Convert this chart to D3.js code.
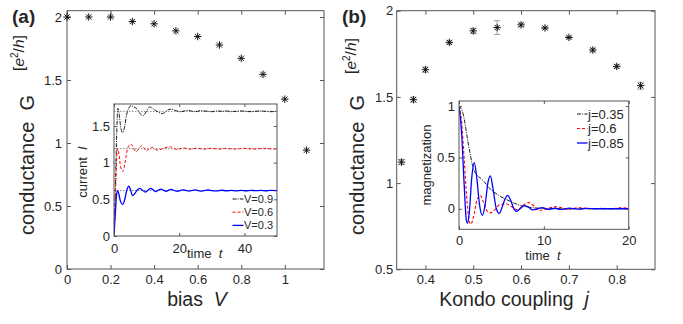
<!DOCTYPE html>
<html><head><meta charset="utf-8">
<script src="https://cdn.jsdelivr.net/npm/d3@7"></script>
<style>
body{margin:0;background:#fff}
svg{display:block}
text{font-family:"Liberation Sans",Arial,Helvetica,sans-serif;fill:#262626}
</style>
</head><body>
<svg id="c" width="683" height="324"></svg>
<script>
// ---------- Panel (a) data ----------
const aBias = [0, 0.1, 0.2, 0.3, 0.4, 0.5, 0.6, 0.7, 0.8, 0.9, 1.0, 1.1];
const aConductance = [2.0, 2.0, 2.0, 1.964, 1.946, 1.89, 1.845, 1.778, 1.672, 1.545, 1.348, 0.943];
const aXTicks = [0, 0.2, 0.4, 0.6, 0.8, 1];
const aYTicks = [0, 0.5, 1, 1.5, 2];

// inset (a): current vs time
const insetAXTicks = [0, 20, 40];
const insetAYTicks = [0, 0.5, 1, 1.5];
const insetALabels = ["V=0.9", "V=0.6", "V=0.3"];
const insetALevels = [1.70, 1.19, 0.62];
const currentV09 = [[0,0],[0.4,0.6],[0.8,1.35],[1.2,1.74],[1.6,1.66],[2.0,1.50],[2.7,1.41],[3.3,1.50],[3.9,1.66],[4.5,1.74],[5.3,1.78],[6.0,1.76],[6.9,1.74],[7.8,1.68],[8.9,1.64],[9.8,1.69],[10.4,1.74],[11.0,1.76],[11.8,1.74],[12.8,1.71],[13.8,1.685],[14.8,1.67],[15.8,1.69],[16.8,1.725],[17.6,1.73],[18.6,1.715],[19.6,1.70],[20.6,1.695],[21.6,1.705],[22.6,1.715],[23.6,1.705],[24.6,1.695],[25.6,1.70],[26.6,1.71],[27.6,1.705],[28.6,1.70],[30,1.695],[31.5,1.705],[33,1.70],[34.5,1.705],[36,1.695],[37.5,1.70],[39,1.705],[40.5,1.70],[42,1.695],[43.5,1.70],[45,1.705],[46.5,1.70],[48,1.695],[50,1.70]];
const currentV06 = [[0,0],[0.4,0.5],[0.8,1.05],[1.1,1.19],[1.5,1.12],[2.0,0.95],[2.7,0.88],[3.3,0.98],[4.0,1.16],[4.7,1.24],[5.3,1.25],[6.0,1.20],[6.7,1.15],[7.5,1.18],[8.4,1.23],[9.2,1.20],[9.9,1.16],[10.8,1.19],[11.7,1.21],[12.6,1.185],[13.5,1.17],[14.5,1.185],[15.5,1.20],[16.5,1.21],[17.3,1.215],[18.3,1.195],[19.3,1.18],[20.3,1.19],[21.3,1.20],[22.3,1.195],[23.3,1.185],[24.3,1.19],[25.5,1.20],[26.7,1.19],[28,1.185],[29.5,1.195],[31,1.19],[32.5,1.185],[34,1.195],[35.5,1.19],[37,1.185],[38.5,1.19],[40,1.195],[41.5,1.19],[43,1.185],[44.5,1.19],[46,1.195],[47.5,1.19],[49,1.185],[50,1.19]];
const currentV03 = [[0,0],[0.4,0.3],[0.8,0.57],[1.1,0.62],[1.5,0.57],[2.0,0.47],[2.7,0.43],[3.3,0.50],[3.9,0.62],[4.5,0.68],[5.0,0.64],[5.7,0.55],[6.4,0.58],[7.2,0.63],[7.9,0.65],[8.7,0.625],[9.6,0.60],[10.4,0.625],[11.3,0.65],[12.0,0.63],[12.8,0.605],[13.6,0.625],[14.4,0.64],[15.2,0.625],[16.0,0.61],[16.8,0.625],[17.6,0.635],[18.5,0.62],[19.4,0.61],[20.3,0.62],[21.2,0.63],[22.1,0.62],[23,0.612],[24,0.622],[25,0.628],[26,0.618],[27,0.612],[28,0.622],[29,0.627],[30,0.618],[31.5,0.614],[33,0.624],[34.5,0.617],[36,0.623],[37.5,0.616],[39,0.622],[40.5,0.617],[42,0.623],[43.5,0.618],[45,0.621],[46.5,0.617],[48,0.622],[50,0.62]];

// ---------- Panel (b) data ----------
const bKondo = [0.35, 0.375, 0.4, 0.45, 0.5, 0.55, 0.6, 0.65, 0.7, 0.75, 0.8, 0.85];
const bConductance = [1.122, 1.484, 1.658, 1.816, 1.883, 1.902, 1.918, 1.90, 1.845, 1.772, 1.677, 1.565];
const bError = [0.015, 0.015, 0.015, 0.01, 0.015, 0.04, 0.01, 0.005, 0.005, 0.01, 0.01, 0.02];
const bXTicks = [0.4, 0.5, 0.6, 0.7, 0.8];
const bYTicks = [0.5, 1, 1.5, 2];

// inset (b): magnetization vs time
const insetBXTicks = [0, 10, 20];
const insetBYTicks = [0, 0.5, 1];
const insetBLabels = ["j=0.35", "j=0.6", "j=0.85"];
const magJ035 = [[0,1],[0.5,0.92],[1.0,0.68],[1.3,0.54],[1.7,0.39],[2.0,0.34],[2.5,0.30],[3.0,0.26],[3.6,0.20],[4.5,0.14],[5.6,0.09],[6.5,0.055],[7.6,0.025],[8.5,0.012],[10,0.003],[12,0],[14,0],[16,0],[18,0],[20,0]];
const magJ06 = [[0,1],[0.3,0.85],[0.6,0.5],[0.9,0.12],[1.2,-0.12],[1.4,-0.15],[1.7,-0.08],[2.1,0.08],[2.5,0.13],[2.9,0.06],[3.3,-0.02],[3.7,-0.04],[4.2,-0.01],[4.8,0.04],[5.5,0.05],[6.2,0.02],[6.9,-0.01],[7.5,0.03],[8.2,0.06],[8.8,0.03],[9.4,-0.015],[10,-0.01],[10.7,0.01],[11.5,0.02],[12.3,0.005],[13,-0.005],[14,0.01],[15,0.005],[16,0],[17,0.005],[18,0],[19,0.01],[20,0.005]];
const magJ085 = [[0,1],[0.3,0.75],[0.6,0.25],[0.85,-0.1],[1.0,-0.14],[1.2,-0.05],[1.5,0.3],[1.8,0.45],[2.1,0.3],[2.4,0.05],[2.75,-0.065],[3.1,0.05],[3.4,0.25],[3.7,0.32],[4.0,0.2],[4.4,0.0],[4.75,-0.045],[5.1,0.02],[5.45,0.1],[5.75,0.13],[6.1,0.08],[6.5,-0.005],[6.8,-0.025],[7.2,0.0],[7.7,0.03],[8.2,0.015],[8.7,-0.01],[9.3,0.0],[9.8,0.012],[10.5,-0.005],[11.3,0.005],[12,-0.005],[13,0.005],[14,-0.003],[15,0.003],[16,0],[17,0],[18,0],[19,0],[20,0]];

// ---------- drawing ----------
const svg = d3.select("#c");
const AX = "#555";

function starPath(r){const k=r*0.7071;return `M${-r},0L${r},0M0,${-r}L0,${r}M${-k},${-k}L${k},${k}M${-k},${k}L${k},${-k}`;}

function drawAxes(g, x, y, xt, yt, o){
  const [x0,x1]=x.range(), [y0,y1]=y.range();
  const fmt = d => String(d);
  const gb = g.append("g").attr("transform",`translate(0,${y0})`)
    .call(d3.axisBottom(x).tickValues(xt).tickSize(-o.tick).tickPadding(o.xPad).tickFormat(fmt));
  const gt = g.append("g").attr("transform",`translate(0,${y1})`)
    .call(d3.axisTop(x).tickValues(xt).tickSize(-o.tick).tickFormat(""));
  const gl = g.append("g").attr("transform",`translate(${x0},0)`)
    .call(d3.axisLeft(y).tickValues(yt).tickSize(-o.tick).tickPadding(o.yPad).tickFormat(fmt));
  const gr = g.append("g").attr("transform",`translate(${x1},0)`)
    .call(d3.axisRight(y).tickValues(yt).tickSize(-o.tick).tickFormat(""));
  [gb,gt,gl,gr].forEach(a=>{
    a.select(".domain").remove();
    a.selectAll("line").attr("stroke",AX);
    a.selectAll("text").attr("font-size",o.font).attr("fill","#262626")
      .attr("font-family",'"Liberation Sans",Arial,Helvetica,sans-serif');
  });
  g.append("rect").attr("x",x0).attr("y",y1).attr("width",x1-x0).attr("height",y0-y1)
    .attr("fill","none").attr("stroke",AX).attr("stroke-width",1);
}

function unitLabel(x, y){
  svg.append("text").attr("transform",`translate(${x},${y}) rotate(-90)`).attr("text-anchor","middle")
    .attr("font-size",15.5)
    .html('[<tspan font-style="italic">e</tspan><tspan font-size="10" dy="-6">2</tspan><tspan dy="6">/</tspan><tspan font-style="italic">h</tspan>]');
}

// ===== Panel (a) =====
const xa = d3.scaleLinear().domain([0,1.18]).range([67,324]);
const ya = d3.scaleLinear().domain([0,2.05]).range([269,10.7]);
const ga = svg.append("g");
drawAxes(ga, xa, ya, aXTicks, aYTicks, {tick:4, xPad:5.5, yPad:5, font:13});
ga.selectAll("path.star").data(aBias).join("path").attr("class","star")
  .attr("transform",(d,i)=>`translate(${xa(d)},${ya(aConductance[i])})`)
  .attr("d",starPath(3.7)).attr("stroke","#111").attr("stroke-width",1).attr("fill","none");

// inset (a)
const xia = d3.scaleLinear().domain([0,50]).range([114,277]);
const yia = d3.scaleLinear().domain([0,1.8]).range([236,104]);
const gia = svg.append("g");
gia.append("rect").attr("x",114).attr("y",104).attr("width",163).attr("height",132).attr("fill","#fff");
gia.append("defs").append("clipPath").attr("id","clipA").append("rect")
  .attr("x",114).attr("y",104).attr("width",163).attr("height",132);
const pa = gia.append("g").attr("clip-path","url(#clipA)");
pa.selectAll("line.lvl").data(insetALevels).join("line").attr("class","lvl")
  .attr("x1",xia(0)).attr("x2",xia(50)).attr("y1",d=>yia(d)).attr("y2",d=>yia(d))
  .attr("stroke","#666").attr("stroke-width",0.8).attr("stroke-dasharray","1.5,1.5");
const lineA = d3.line().x(d=>xia(d[0])).y(d=>yia(d[1])).curve(d3.curveMonotoneX);
const seriesA = [
  {data:currentV09, color:"#000", dash:"4,1.2,1,1.2", w:0.9},
  {data:currentV06, color:"#ff0000", dash:"3,2", w:1},
  {data:currentV03, color:"#0000ff", dash:null, w:1.3}
];
seriesA.forEach(s=>{
  pa.append("path").attr("d",lineA(s.data)).attr("fill","none").attr("stroke",s.color)
    .attr("stroke-width",s.w).attr("stroke-dasharray",s.dash);
});
drawAxes(gia, xia, yia, insetAXTicks, insetAYTicks, {tick:3, xPad:7.5, yPad:4, font:13});
// legend (a)
insetALabels.forEach((lab,i)=>{
  const yy = 199 + i*13.2, s = seriesA[i];
  gia.append("line").attr("x1",232.5).attr("x2",243.5).attr("y1",yy).attr("y2",yy)
    .attr("stroke",s.color).attr("stroke-width",s.w).attr("stroke-dasharray",s.dash);
  gia.append("text").attr("x",244).attr("y",yy+4).attr("font-size",11).text(lab);
});
gia.append("text").attr("x",187).attr("y",257.5).attr("font-size",13)
  .html('time\u00a0\u00a0<tspan font-style="italic">t</tspan>');
gia.append("text").attr("transform","translate(87,172) rotate(-90)").attr("text-anchor","middle")
  .attr("font-size",13).html('current\u00a0\u00a0<tspan font-style="italic">I</tspan>');

// labels (a)
svg.append("text").attr("x",197).attr("y",305.5).attr("text-anchor","middle").attr("font-size",19.5)
  .html('bias\u00a0\u00a0<tspan font-style="italic">V</tspan>');
svg.append("text").attr("transform","translate(33.5,165) rotate(-90)").attr("text-anchor","middle")
  .attr("font-size",20).text("conductance\u00a0\u00a0G");
unitLabel(24, 53);
svg.append("text").attr("x",12).attr("y",22.7).attr("font-size",19).attr("font-weight","bold").attr("fill","#000").text("(a)");

// ===== Panel (b) =====
const xb = d3.scaleLinear().domain([0.34,0.88]).range([396.7,655]);
const yb = d3.scaleLinear().domain([0.5,2]).range([269.3,10.7]);
const gbp = svg.append("g");
drawAxes(gbp, xb, yb, bXTicks, bYTicks, {tick:4, xPad:5.5, yPad:3.5, font:13});
const eb = gbp.selectAll("g.eb").data(bKondo).join("g").attr("class","eb");
eb.append("line").attr("x1",d=>xb(d)).attr("x2",d=>xb(d))
  .attr("y1",(d,i)=>yb(bConductance[i]-bError[i])).attr("y2",(d,i)=>yb(bConductance[i]+bError[i]))
  .attr("stroke","#888").attr("stroke-width",0.8);
[-1,1].forEach(sg=>{
  eb.append("line").attr("x1",d=>xb(d)-3.2).attr("x2",d=>xb(d)+3.2)
    .attr("y1",(d,i)=>yb(bConductance[i]+sg*bError[i])).attr("y2",(d,i)=>yb(bConductance[i]+sg*bError[i]))
    .attr("stroke","#888").attr("stroke-width",0.8);
});
gbp.selectAll("path.star").data(bKondo).join("path").attr("class","star")
  .attr("transform",(d,i)=>`translate(${xb(d)},${yb(bConductance[i])})`)
  .attr("d",starPath(3.7)).attr("stroke","#111").attr("stroke-width",1).attr("fill","none");

// inset (b)
const xib = d3.scaleLinear().domain([0,20]).range([459,628.7]);
const yib = d3.scaleLinear().domain([-0.2,1.05]).range([229.3,101]);
const gib = svg.append("g");
gib.append("rect").attr("x",459).attr("y",101).attr("width",169.7).attr("height",128.3).attr("fill","#fff");
gib.append("defs").append("clipPath").attr("id","clipB").append("rect")
  .attr("x",459).attr("y",101).attr("width",169.7).attr("height",128.3);
const pb = gib.append("g").attr("clip-path","url(#clipB)");
const lineB = d3.line().x(d=>xib(d[0])).y(d=>yib(d[1])).curve(d3.curveMonotoneX);
const seriesB = [
  {data:magJ035, color:"#000", dash:"4,1.2,1,1.2", w:0.9},
  {data:magJ06, color:"#ff0000", dash:"3,2", w:1.1},
  {data:magJ085, color:"#0000ff", dash:null, w:1.3}
];
seriesB.forEach(s=>{
  pb.append("path").attr("d",lineB(s.data)).attr("fill","none").attr("stroke",s.color)
    .attr("stroke-width",s.w).attr("stroke-dasharray",s.dash);
});
drawAxes(gib, xib, yib, insetBXTicks, insetBYTicks, {tick:3, xPad:6.5, yPad:4, font:13});
insetBLabels.forEach((lab,i)=>{
  const yy = 114 + i*14.5, s = seriesB[i];
  gib.append("line").attr("x1",577).attr("x2",587.5).attr("y1",yy).attr("y2",yy)
    .attr("stroke",s.color).attr("stroke-width",s.w).attr("stroke-dasharray",s.dash);
  gib.append("text").attr("x",588).attr("y",yy+4.5).attr("font-size",13).text(lab);
});
gib.append("text").attr("x",543).attr("y",260).attr("text-anchor","middle").attr("font-size",13)
  .html('time\u00a0\u00a0<tspan font-style="italic">t</tspan>');
gib.append("text").attr("transform","translate(431,165) rotate(-90)").attr("text-anchor","middle")
  .attr("font-size",13).text("magnetization");

// labels (b)
svg.append("text").attr("x",514).attr("y",305.5).attr("text-anchor","middle").attr("font-size",19.5)
  .html('Kondo coupling\u00a0\u00a0<tspan font-style="italic">j</tspan>');
svg.append("text").attr("transform","translate(364,165) rotate(-90)").attr("text-anchor","middle")
  .attr("font-size",20).text("conductance\u00a0\u00a0G");
unitLabel(355.5, 56);
svg.append("text").attr("x",342).attr("y",22.7).attr("font-size",19).attr("font-weight","bold").attr("fill","#000").text("(b)");
</script>
</body></html>
